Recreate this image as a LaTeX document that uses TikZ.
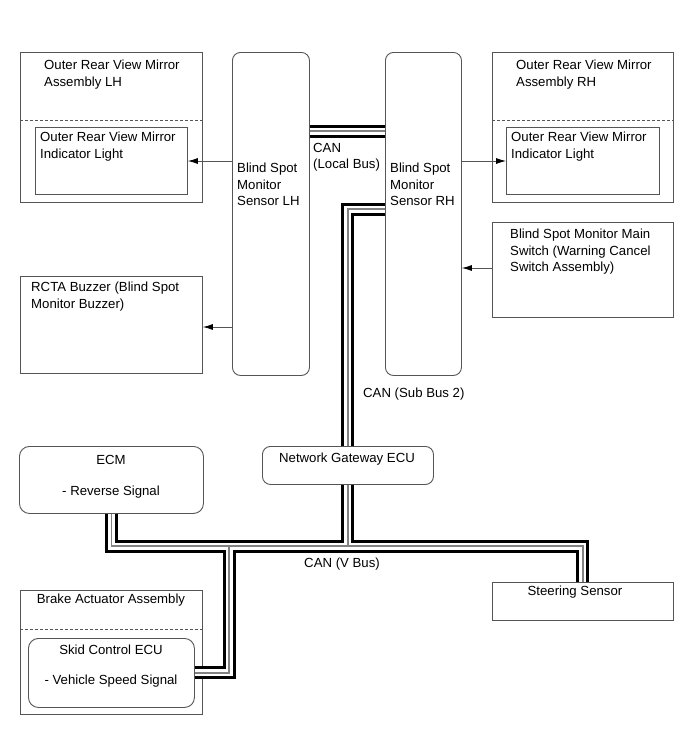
\documentclass[tikz,border=0pt]{standalone}
\usepackage{fontspec}
\setmainfont{Liberation Sans}
\usetikzlibrary{arrows.meta}
\definecolor{edge}{RGB}{85,85,85}
\definecolor{busgray}{RGB}{130,130,130}
\begin{document}
\begin{tikzpicture}[x=1pt,y=-1pt,
  font=\fontsize{13.2}{16.5}\selectfont,
  box/.style={draw=edge, line width=0.9pt, inner sep=0pt, anchor=north west},
  rbox/.style={box, rounded corners=8pt},
  lbl/.style={inner sep=0pt, anchor=north west, align=left},
  clbl/.style={inner sep=0pt, align=center},
  sig/.style={draw=edge, line width=0.8pt, -{Latex[length=10pt,width=6pt,black]}},
  dsh/.style={draw=edge, line width=0.8pt, dash pattern=on 3pt off 2pt},
]
\useasboundingbox[fill=white] (0,0) rectangle (690,756);

% boxes
\node[box, minimum width=182pt, minimum height=150pt] (outerL) at (20,52) {};
\node[box, minimum width=152pt, minimum height=67pt] (innerL) at (35,127) {};
\node[rbox, minimum width=77pt, minimum height=323pt] (snsL) at (232,52) {};
\node[rbox, minimum width=76pt, minimum height=323pt] (snsR) at (385,52) {};
\node[box, minimum width=181pt, minimum height=150pt] (outerR) at (492,52) {};
\node[box, minimum width=153pt, minimum height=67pt] (innerR) at (506,127) {};
\node[box, minimum width=181pt, minimum height=95pt] (sw) at (492,222) {};
\node[box, minimum width=182pt, minimum height=97pt] (rcta) at (20,276) {};
\node[rbox, minimum width=171pt, minimum height=38pt] (gw) at (262,446) {};
\node[rbox, rounded corners=10pt, minimum width=184pt, minimum height=67pt] (ecm) at (19,446) {};
\node[box, minimum width=181pt, minimum height=38pt] (steer) at (492,582) {};
\node[box, minimum width=182pt, minimum height=124pt] (brake) at (20,590) {};
\node[rbox, rounded corners=10pt, minimum width=166pt, minimum height=69pt] (skid) at (28,638) {};

% dashed separators
\coordinate (dLY) at (0,120);
\coordinate (dBY) at (0,629);
\draw[dsh] (outerL.west |- dLY) -- (outerL.east |- dLY);
\draw[dsh] (outerR.west |- dLY) -- (outerR.east |- dLY);
\draw[dsh] (brake.west |- dBY) -- (brake.east |- dBY);

% texts
\node[lbl] (tOL) at (44,60) {Outer Rear View Mirror\\Assembly LH};
\node[lbl] (tIL) at (40,132) {Outer Rear View Mirror\\Indicator Light};
\node[lbl] (tOR) at (516,60) {Outer Rear View Mirror\\Assembly RH};
\node[lbl] (tIR) at (511,132) {Outer Rear View Mirror\\Indicator Light};
\node[lbl] (tSL) at (237,163) {Blind Spot\\Monitor\\Sensor LH};
\node[lbl] (tSR) at (390,163) {Blind Spot\\Monitor\\Sensor RH};
\node[lbl] (tLB) at (313,143) {CAN\\(Local Bus)};
\node[lbl] (tSW) at (510,229) {Blind Spot Monitor Main\\Switch (Warning Cancel\\Switch Assembly)};
\node[lbl] (tRC) at (31,282) {RCTA Buzzer (Blind Spot\\Monitor Buzzer)};
\node[lbl] (tSB) at (363,388) {CAN (Sub Bus 2)};
\node[clbl] (tGW) at (347,459) {Network Gateway ECU};
\node[clbl] (tECM1) at (111,460) {ECM};
\node[clbl] (tECM2) at (111,492) {- Reverse Signal};
\node[clbl] (tVB) at (342,564) {CAN (V Bus)};
\node[clbl] (tST) at (575,592) {Steering Sensor};
\node[clbl] (tBR) at (111,600) {Brake Actuator Assembly};
\node[clbl] (tSK1) at (111,650) {Skid Control ECU};
\node[clbl] (tSK2) at (111,681) {- Vehicle Speed Signal};

% signal arrows
\coordinate (aMY) at (0,161);
\coordinate (aSY) at (0,268);
\coordinate (aRY) at (0,327);
\draw[sig] (snsL.west |- aMY) -- (innerL.east |- aMY);
\draw[sig] (snsR.east |- aMY) -- (innerR.west |- aMY);
\draw[sig] (sw.west |- aSY) -- (snsR.east |- aSY);
\draw[sig] (snsL.west |- aRY) -- (rcta.east |- aRY);

% CAN buses (twisted pair look)
\coordinate (lbY) at (0,131);
\coordinate (sbY) at (0,209);
\coordinate (vbY) at (0,546);
\coordinate (vbJ) at (229,546);
\foreach \w/\c in {13pt/black, 7pt/white, 1.3pt/busgray} {
  \draw[line width=\w, draw=\c] (snsL.east |- lbY) -- (snsR.west |- lbY);
  \draw[line width=\w, draw=\c] (snsR.west |- sbY) -| (gw.north);
  \draw[line width=\w, draw=\c] (gw.south) -- (gw.south |- vbY);
  \draw[line width=\w, draw=\c] (ecm.south) -- (ecm.south |- vbY) -| (steer.north);
  \draw[line width=\w, draw=\c] (vbJ) |- (skid.east);
}
\end{tikzpicture}
\end{document}
